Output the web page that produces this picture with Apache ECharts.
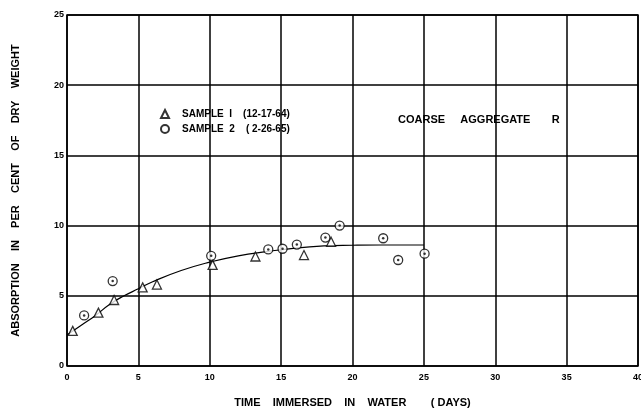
<!DOCTYPE html>
<html>
<head>
<meta charset="utf-8">
<script src="https://cdn.jsdelivr.net/npm/echarts@6/dist/echarts.min.js"></script>
<style>html,body{margin:0;padding:0;background:#fff}#c{width:641px;height:410px}</style>
</head>
<body>
<div id="c"></div>
<script>
// Sample 1 (triangles): [days, absorption %]
const sample1 = [[0.4,2.5],[2.2,3.8],[3.3,4.7],[5.3,5.6],[6.3,5.8],[10.2,7.2],[13.2,7.8],[16.6,7.9],[18.5,8.85]];
// Sample 2 (circles with dot): [days, absorption %]
const sample2 = [[1.2,3.6],[3.2,6.05],[10.1,7.85],[14.1,8.3],[15.1,8.35],[16.1,8.65],[18.1,9.15],[19.1,10.0],[22.15,9.1],[23.2,7.55],[25.05,8.0]];
// Hand-drawn fitted curve
const curve = [[0,2.2],[1,2.9],[2,3.6],[3,4.4],[4,5.0],[5,5.5],[6,6.0],[8,6.8],[10,7.4],[12,7.85],[14,8.15],[16,8.4],[18,8.55],[20,8.6],[22,8.62],[25,8.62]];
const xTicks = [0,5,10,15,20,25,30,35,40];
const yTicks = [0,5,10,15,20,25];
const legendNames = ['SAMPLE  I    (12-17-64)', 'SAMPLE  2    ( 2-26-65)'];
const noteText = 'COARSE     AGGREGATE       R';
const xTitle = 'TIME    IMMERSED    IN    WATER        ( DAYS)';
const yTitle = 'ABSORPTION    IN    PER    CENT    OF    DRY    WEIGHT';

const font = 'Liberation Sans, Arial, sans-serif';
const chart = echarts.init(document.getElementById('c'), null, {renderer:'canvas'});
chart.setOption({
  backgroundColor:'#fff',
  animation:false,
  grid:{left:67, right:3, top:15, bottom:44, containLabel:false, outerBoundsMode:'none',
    show:true, borderColor:'#000', borderWidth:1.5},
  xAxis:{type:'value', min:xTicks[0], max:xTicks[xTicks.length-1], interval:5,
    name:xTitle, nameLocation:'middle', nameGap:31,
    nameTextStyle:{fontFamily:font, fontWeight:'bold', fontSize:11, color:'#000'},
    axisLine:{show:false}, axisTick:{show:false},
    axisLabel:{fontFamily:font, fontWeight:'bold', fontSize:9, color:'#000', margin:7},
    splitLine:{show:true, lineStyle:{color:'#000', width:1.5}}},
  yAxis:{type:'value', min:yTicks[0], max:yTicks[yTicks.length-1], interval:5,
    name:yTitle, nameLocation:'middle', nameGap:46, nameRotate:90,
    nameTextStyle:{fontFamily:font, fontWeight:'bold', fontSize:11, color:'#000'},
    axisLine:{show:false}, axisTick:{show:false},
    axisLabel:{fontFamily:font, fontWeight:'bold', fontSize:9, color:'#000', margin:3},
    splitLine:{show:true, lineStyle:{color:'#000', width:1.5}}},
  legend:{orient:'vertical', left:155, top:104, itemGap:5, itemWidth:8, itemHeight:8,
    data:[{name:legendNames[0], icon:'triangle'},{name:legendNames[1], icon:'circle'}],
    textStyle:{fontFamily:font, fontWeight:'bold', fontSize:10, color:'#000', padding:[0,0,0,8]}},
  graphic:[{type:'text', left:398, top:114, style:{text:noteText, font:'bold 11px '+font, fill:'#000'}}],
  series:[
    {type:'line', data:curve, smooth:true, showSymbol:false, symbol:'none', lineStyle:{color:'#000', width:1.2}, silent:true, z:2},
    {name:legendNames[0], type:'scatter', data:sample1, symbol:'triangle', symbolSize:9,
      itemStyle:{color:'#fff', borderColor:'#000', borderWidth:1.3}, z:3},
    {name:legendNames[1], type:'scatter', data:sample2, symbol:'circle', symbolSize:9,
      itemStyle:{color:'#fff', borderColor:'#000', borderWidth:1.3}, z:3},
    {name:'dot', type:'scatter', data:sample2, symbol:'circle', symbolSize:2.5,
      itemStyle:{color:'#000'}, z:4}
  ]
});
</script>
</body>
</html>
